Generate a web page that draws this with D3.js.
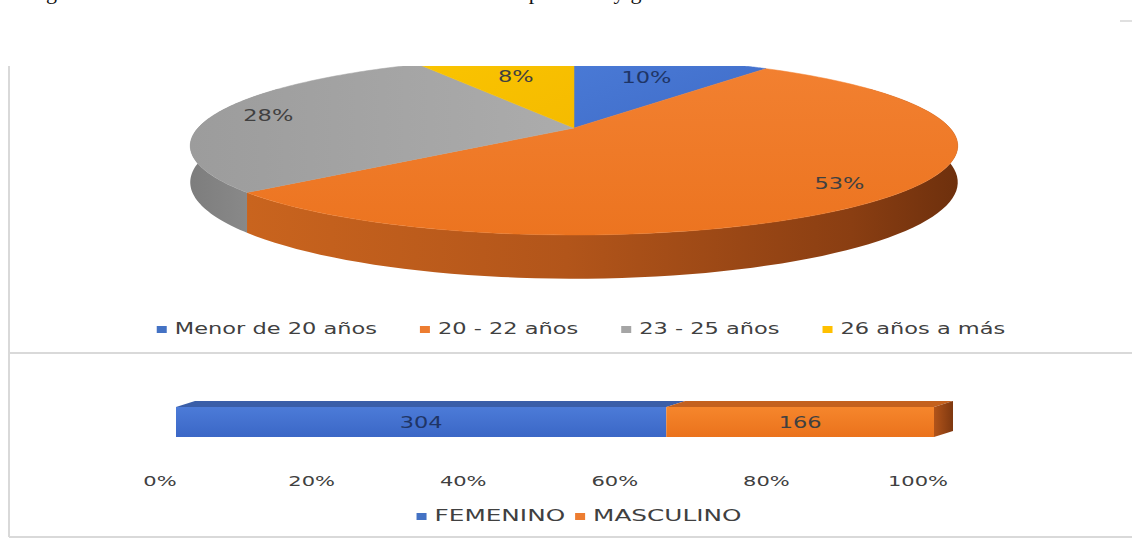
<!DOCTYPE html>
<html>
<head>
<meta charset="utf-8">
<script src="https://cdn.jsdelivr.net/npm/d3@7"></script>
<style>
  html, body { margin: 0; padding: 0; background: #ffffff; }
  svg { display: block; }
</style>
</head>
<body>
<svg id="chart" width="1132" height="547"></svg>
<script>
// ---- data ----
const ageGroups = ["Menor de 20 años", "20 - 22 años", "23 - 25 años", "26 años a más"];
const agePct = [10, 53, 28, 8];
const ageColors = ["#4472C4", "#ED7D31", "#A5A5A5", "#FFC000"];

const genderCats = ["FEMENINO", "MASCULINO"];
const genderCounts = [304, 166];
const genderColors = ["#4472C4", "#ED7D31"];

const axisTicks = [0, 0.2, 0.4, 0.6, 0.8, 1];

const caption = "Figura 4. Distribución de los estudiantes de la muestra por edad y género";

// ---- setup ----
const svg = d3.select("#chart");
const defs = svg.append("defs");
const SX = 1.5;              // horizontal stretch of the text
const textColor = "#404040";
const fontFam = "'DejaVu Sans', Verdana, sans-serif";

function stretchedText(parent, x, y, str, size, anchor, fill) {
  return parent.append("text")
    .attr("transform", `translate(${x},${y}) scale(${SX},1)`)
    .attr("text-anchor", anchor || "start")
    .attr("font-family", fontFam)
    .attr("font-size", size)
    .attr("fill", fill || textColor)
    .text(str);
}

function linGrad(id, stops, x1, y1, x2, y2) {
  const g = defs.append("linearGradient").attr("id", id)
    .attr("x1", x1).attr("y1", y1).attr("x2", x2).attr("y2", y2);
  stops.forEach(s => g.append("stop").attr("offset", s[0]).attr("stop-color", s[1]));
  return `url(#${id})`;
}

// caption line running off the top of the page (only its descenders show)
svg.append("text")
  .attr("x", 27).attr("y", -1)
  .attr("font-family", "'Liberation Serif', 'Times New Roman', serif")
  .attr("font-size", 22)
  .attr("fill", "#111")
  .attr("textLength", 665).attr("lengthAdjust", "spacing")
  .text(caption);

// page frame lines
const frame = svg.append("g").attr("stroke", "#d9d9d9").attr("stroke-width", 2).attr("fill", "none");
frame.append("line").attr("x1", 9).attr("x2", 9).attr("y1", 66).attr("y2", 537);
frame.append("line").attr("x1", 9).attr("x2", 1132).attr("y1", 353).attr("y2", 353);
frame.append("line").attr("x1", 9).attr("x2", 1132).attr("y1", 537).attr("y2", 537);
svg.append("line").attr("x1", 1120).attr("x2", 1132).attr("y1", 21).attr("y2", 21)
  .attr("stroke", "#e0e0e0").attr("stroke-width", 2);

// ---- 3D pie (perspective view) ----
const pie = { cx: 574, cy: 128, rx: 376, ry: 85.6, k: 0.2, h: 35 };
function proj(theta, f, z) {
  const u = f * Math.sin(theta), v = -f * Math.cos(theta);
  const d = 1 - pie.k * v;
  return [pie.cx + pie.rx * u / d, pie.cy + (pie.ry * v + pie.h * z) / d];
}

defs.append("clipPath").attr("id", "pieClip")
  .append("rect").attr("x", 10).attr("y", 66).attr("width", 1122).attr("height", 287);

const pieG = svg.append("g").attr("clip-path", "url(#pieClip)");
const arcs = d3.pie().sort(null).value(d => d)(agePct);
const line = d3.line();

const wallFills = [
  linGrad("wallBlue", [[0, "#2f55a0"], [1, "#233f7a"]], 0, 0, 1, 0),
  linGrad("wallOrange", [[0, "#c9641e"], [0.45, "#b2551a"], [0.85, "#8a3e12"], [1, "#6e300d"]], 0, 0, 1, 0),
  linGrad("wallGray", [[0, "#7d7d7d"], [1, "#8f8f8f"]], 0, 0, 1, 0),
  linGrad("wallYellow", [[0, "#c99700"], [1, "#b38600"]], 0, 0, 1, 0)
];
const topFills = [
  linGrad("topBlue", [[0, "#4a7ad6"], [1, "#3f6cc8"]], 0, 0, 1, 1),
  linGrad("topOrange", [[0, "#f28030"], [1, "#ec7420"]], 0, 0, 0, 1),
  linGrad("topGray", [[0, "#9c9c9c"], [1, "#acacac"]], 0, 0, 1, 0),
  linGrad("topYellow", [[0, "#fac400"], [1, "#f5bb00"]], 0, 0, 1, 1)
];

// outer walls (front part of the cylinder)
const visLo = 60 * Math.PI / 180, visHi = 300 * Math.PI / 180;
arcs.forEach((a, i) => {
  const a0 = Math.max(a.startAngle, visLo), a1 = Math.min(a.endAngle, visHi);
  if (a1 <= a0) return;
  const n = 80, topPts = [], botPts = [];
  for (let j = 0; j <= n; j++) {
    const t = a0 + (a1 - a0) * j / n;
    topPts.push(proj(t, 1, 0));
    botPts.push(proj(t, 1, 1));
  }
  pieG.append("path")
    .attr("d", line(topPts.concat(botPts.reverse())) + "Z")
    .attr("fill", wallFills[i]);
});

// top faces
arcs.forEach((a, i) => {
  const n = 120, pts = [[pie.cx, pie.cy]];
  for (let j = 0; j <= n; j++) {
    pts.push(proj(a.startAngle + (a.endAngle - a.startAngle) * j / n, 1, 0));
  }
  pieG.append("path").attr("d", line(pts) + "Z").attr("fill", topFills[i])
    .attr("stroke", topFills[i]).attr("stroke-width", 0.5);
});

// percentage labels
arcs.forEach((a, i) => {
  const share = (a.endAngle - a.startAngle) / (2 * Math.PI);
  const f = share > 0.2 ? 0.85 : 0.7;
  const p = proj((a.startAngle + a.endAngle) / 2, f, 0);
  stretchedText(pieG, p[0], p[1] + 5, agePct[i] + "%", 15, "middle",
    i === 0 ? "#1f3566" : textColor);
});

// legend rows
function drawLegend(names, colors, centerX, baseY, size, gapItem) {
  const g = svg.append("g");
  const items = names.map((n, i) => {
    const t = stretchedText(g, 0, baseY, n, size, "start");
    return { t, w: t.node().getComputedTextLength() * SX, c: colors[i] };
  });
  const mark = 10, gapMark = 8;
  const total = d3.sum(items, d => mark + gapMark + d.w) + gapItem * (items.length - 1);
  let x = centerX - total / 2;
  items.forEach(d => {
    g.append("rect").attr("x", x).attr("y", baseY - 8).attr("width", mark).attr("height", 7)
      .attr("fill", d.c);
    d.t.attr("transform", `translate(${x + mark + gapMark},${baseY}) scale(${SX},1)`);
    x += mark + gapMark + d.w + gapItem;
  });
}
drawLegend(ageGroups, ageColors, 581, 334, 15, 43);

// ---- 3D 100% stacked bar ----
const xs = d3.scaleLinear().domain([0, 1]).range([160, 918]);
const stackData = d3.stack().keys(genderCats).offset(d3.stackOffsetExpand)(
  [Object.fromEntries(genderCats.map((c, i) => [c, genderCounts[i]]))]
);
const bar = { shift: 16, y0: 407, h: 30, dx: 19, dy: -6 };

const frontFills = [
  linGrad("frontBlue", [[0, "#4c7bd8"], [1, "#3b67c6"]], 0, 0, 0, 1),
  linGrad("frontOrange", [[0, "#f6862c"], [1, "#ea721c"]], 0, 0, 0, 1)
];
const capFills = ["#3a5ea8", "#c4611e"];
const barG = svg.append("g");

stackData.forEach((s, i) => {
  const x0 = xs(s[0][0]) + bar.shift, x1 = xs(s[0][1]) + bar.shift;
  // top face
  barG.append("path")
    .attr("d", line([[x0, bar.y0], [x0 + bar.dx, bar.y0 + bar.dy],
                     [x1 + bar.dx, bar.y0 + bar.dy], [x1, bar.y0]]) + "Z")
    .attr("fill", capFills[i]);
  // front face
  barG.append("rect").attr("x", x0).attr("y", bar.y0)
    .attr("width", x1 - x0).attr("height", bar.h).attr("fill", frontFills[i]);
  // end face of the last segment
  if (i === stackData.length - 1) {
    barG.append("path")
      .attr("d", line([[x1, bar.y0], [x1 + bar.dx, bar.y0 + bar.dy],
                       [x1 + bar.dx, bar.y0 + bar.dy + bar.h], [x1, bar.y0 + bar.h]]) + "Z")
      .attr("fill", linGrad("sideOrange", [[0, "#b2541a"], [1, "#7e3810"]], 0, 0, 1, 0));
  }
  stretchedText(barG, (x0 + x1) / 2, bar.y0 + bar.h / 2 + 6, genderCounts[i], 15, "middle",
    i === 0 ? "#1f3566" : textColor);
});

// percentage axis labels (no axis line)
const fmt = d3.format(".0%");
axisTicks.forEach(t => stretchedText(svg, xs(t), 486, fmt(t), 14, "middle"));

drawLegend(genderCats, genderColors, 579, 521, 16.5, 10);
</script>
</body>
</html>
